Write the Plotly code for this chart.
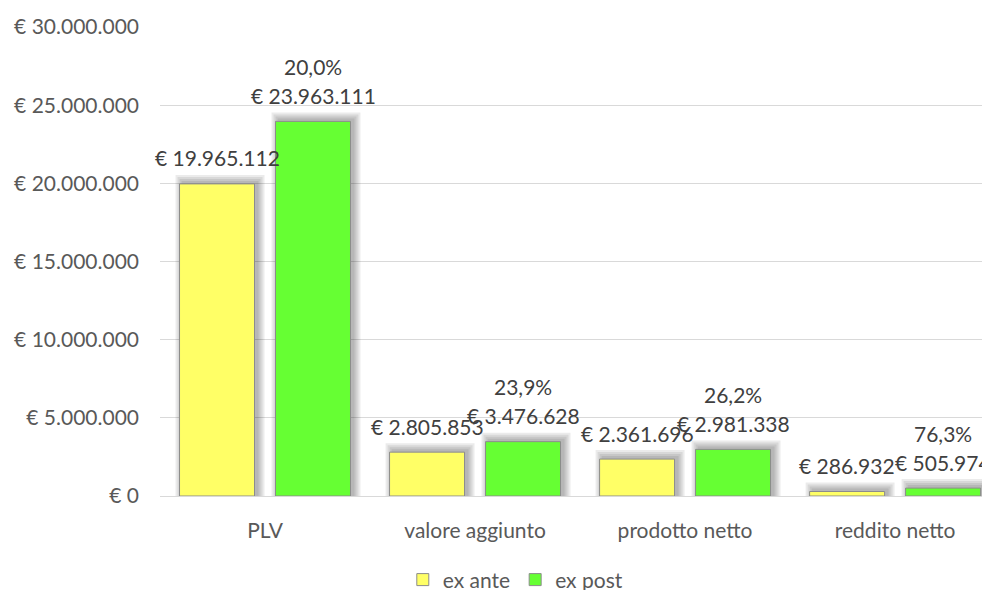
import plotly.graph_objects as go

categories = ['PLV', 'valore aggiunto', 'prodotto netto', 'reddito netto']
ex_ante = [19965112, 2805853, 2361696, 286932]
ex_post = [23963111, 3476628, 2981338, 505974]
y_ticks = [0, 5000000, 10000000, 15000000, 20000000, 25000000, 30000000]

FONT = 'Lato'
GREY = '#595959'
LABEL = '#404040'
YELLOW = '#FFFF66'
GREEN = '#66FF33'

# geometry (category units): bars 75px wide in 210px categories
BAR_W = 0.357
OFF_ANTE = -0.407
OFF_POST = 0.05
PX = 30000000 / 469  # value per pixel on y


def euro(v):
    return '€ ' + f'{v:,}'.replace(',', '.')


def pct(a, b):
    return f'{(b / a - 1) * 100:.1f}%'.replace('.', ',')


fig = go.Figure()

# soft drop shadow, faked with stacked translucent bars
for off in (OFF_ANTE, OFF_POST):
    vals = ex_ante if off == OFF_ANTE else ex_post
    for e in (1, 3, 5, 7):
        fig.add_trace(go.Bar(
            x=categories, y=[v + (2 + e) * PX for v in vals],
            width=BAR_W + 2 * e / 210, offset=off - e / 210 + 3 / 210,
            marker=dict(color='rgba(0,0,0,0.08)', line=dict(width=0)),
            showlegend=False, hoverinfo='skip'))

fig.add_trace(go.Bar(
    name='ex ante', x=categories, y=ex_ante,
    width=BAR_W, offset=OFF_ANTE,
    marker=dict(color=YELLOW, line=dict(color='#8c8c8c', width=1))))
fig.add_trace(go.Bar(
    name='ex post', x=categories, y=ex_post,
    width=BAR_W, offset=OFF_POST,
    marker=dict(color=GREEN, line=dict(color='#8c8c8c', width=1))))

# data labels
lbl = dict(showarrow=False, yanchor='middle', font=dict(color=LABEL, size=21))
for i, c in enumerate(categories):
    fig.add_annotation(x=c, y=ex_ante[i], text=euro(ex_ante[i]),
                       xshift=-48, yshift=26, **lbl)
    fig.add_annotation(x=c, y=ex_post[i], text=euro(ex_post[i]),
                       xshift=48, yshift=26, **lbl)
    fig.add_annotation(x=c, y=ex_post[i], text=pct(ex_ante[i], ex_post[i]),
                       xshift=48, yshift=55, **lbl)

# page body has an 8px margin, so margins are shifted by 8
fig.update_layout(
    width=990, height=590,
    barmode='overlay',
    separators=',.',
    paper_bgcolor='white', plot_bgcolor='white',
    font=dict(family=FONT, size=21, color=GREY),
    margin=dict(l=152, r=0, t=19, b=102, autoexpand=False),
    legend=dict(orientation='h', x=0.424, xanchor='center', y=-0.179, yanchor='middle',
                font=dict(size=21, color=GREY), itemclick=False),
)
fig.update_xaxes(range=[-0.5, 3.49], showgrid=False, showline=False, ticks='',
                 ticklabelstandoff=20)
fig.update_yaxes(range=[0, 30000000], tickvals=y_ticks, ticktext=[euro(v) for v in y_ticks],
                 showgrid=True, gridcolor='#d9d9d9', gridwidth=1,
                 zeroline=True, zerolinecolor='#d9d9d9', zerolinewidth=1,
                 showline=False, ticks='', ticklabelstandoff=20)

fig.write_html("out.html")
